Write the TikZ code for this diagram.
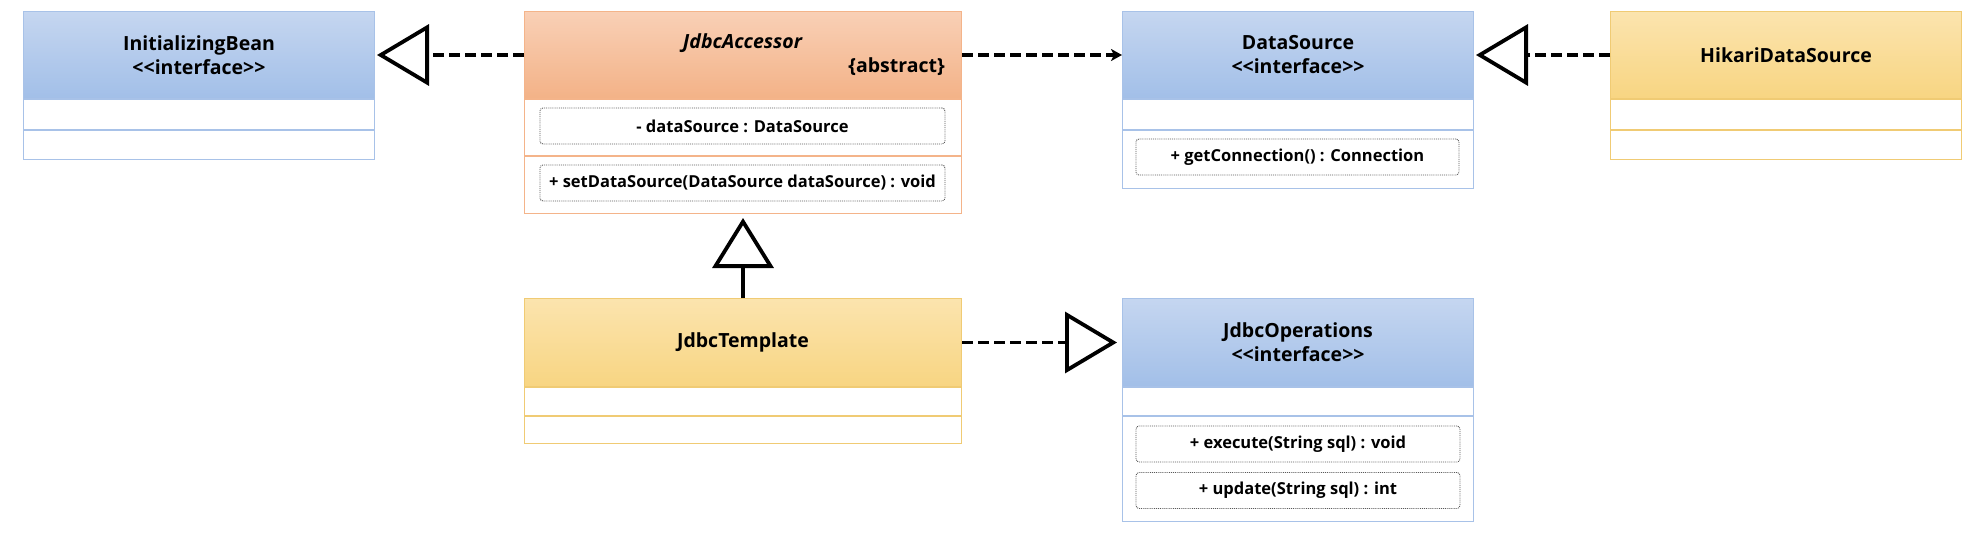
\documentclass[tikz,border=0pt]{standalone}
\usepackage{fontspec}
\setmainfont{Open Sans}
\usetikzlibrary{arrows.meta}
\definecolor{ifTop}{HTML}{C5D6F0}
\definecolor{ifBot}{HTML}{A2BFE8}
\definecolor{ifLine}{HTML}{A8C2E8}
\definecolor{abTop}{HTML}{F9D0B6}
\definecolor{abBot}{HTML}{F3B287}
\definecolor{abLine}{HTML}{F4B48A}
\definecolor{clTop}{HTML}{FBE4AE}
\definecolor{clBot}{HTML}{F8D582}
\definecolor{clLine}{HTML}{F0CB74}
\newcommand{\hdrfont}{\fontsize{19.5}{24}\selectfont\bfseries}
\newcommand{\mbrfont}{\fontsize{16.5}{20}\selectfont\bfseries}
\newcommand{\stereo}{<{}<interface>{}>}

\begin{document}
\begin{tikzpicture}[x=1pt,y=-1pt,
    hdr/.style={anchor=north west, inner sep=0pt, line width=1pt, align=center, font=\hdrfont},
    comp/.style={anchor=north west, inner sep=0pt, line width=1pt, fill=white},
    blueHdr/.style={hdr, draw=ifLine, top color=ifTop, bottom color=ifBot},
    orangeHdr/.style={hdr, draw=abLine, top color=abTop, bottom color=abBot},
    yellowHdr/.style={hdr, draw=clLine, top color=clTop, bottom color=clBot},
    member/.style={draw=black!65, densely dotted, line width=0.9pt, rounded corners=3pt,
        inner sep=0pt, font=\mbrfont},
    realize/.style={line width=3.6pt, dash pattern=on 11pt off 5pt,
        -{Triangle[open, length=52pt, width=61pt, line width=3.8pt]}},
    inherit/.style={line width=3.6pt,
        -{Triangle[open, length=50pt, width=61pt, line width=3.8pt]}},
    depend/.style={line width=3.6pt, dash pattern=on 11pt off 5pt,
        -{Stealth[length=11pt, width=12pt, inset=3pt]}}]

    % Page
    \useasboundingbox (0,0) rectangle (1986,546);
    \fill[white] (0,0) rectangle (1986,546);

    % InitializingBean
    \node[blueHdr, minimum width=351, minimum height=87] (ibHead) at (23,11) {InitializingBean\\\stereo};
    \node[comp, draw=ifLine, minimum width=351, minimum height=30] (ibAttr) at (ibHead.south west) {};
    \node[comp, draw=ifLine, minimum width=351, minimum height=29] (ibOps) at (ibAttr.south west) {};

    % JdbcAccessor
    \node[orangeHdr, minimum width=437, minimum height=87] (jaHead) at (524,11) {};
    \node[comp, draw=abLine, minimum width=437, minimum height=56] (jaAttr) at (jaHead.south west) {};
    \node[comp, draw=abLine, minimum width=437, minimum height=57] (jaOps) at (jaAttr.south west) {};
    \node[font=\hdrfont\itshape, inner sep=0pt] (jaName) at (742.5,43) {JdbcAccessor};
    \node[font=\hdrfont, inner sep=0pt, anchor=east] (jaAbs) at (945,67) {\{abstract\}};
    \node[member, minimum width=405, minimum height=36] (jaField) at (742.5,126) {- dataSource : DataSource};
    \node[member, minimum width=405, minimum height=36] (jaSet) at (742.5,183) {+ setDataSource(DataSource dataSource) : void};

    % DataSource
    \node[blueHdr, minimum width=351, minimum height=87] (dsHead) at (1122,11) {DataSource\\\stereo};
    \node[comp, draw=ifLine, minimum width=351, minimum height=30] (dsAttr) at (dsHead.south west) {};
    \node[comp, draw=ifLine, minimum width=351, minimum height=58] (dsOps) at (dsAttr.south west) {};
    \node[member, minimum width=323, minimum height=36] (dsConn) at (1297.5,157) {+ getConnection() : Connection};

    % HikariDataSource
    \node[yellowHdr, minimum width=351, minimum height=87] (hdsHead) at (1610,11) {HikariDataSource};
    \node[comp, draw=clLine, minimum width=351, minimum height=30] (hdsAttr) at (hdsHead.south west) {};
    \node[comp, draw=clLine, minimum width=351, minimum height=29] (hdsOps) at (hdsAttr.south west) {};

    % JdbcTemplate
    \node[yellowHdr, minimum width=437, minimum height=88] (jtHead) at (524,298) {JdbcTemplate};
    \node[comp, draw=clLine, minimum width=437, minimum height=28] (jtAttr) at (jtHead.south west) {};
    \node[comp, draw=clLine, minimum width=437, minimum height=27] (jtOps) at (jtAttr.south west) {};

    % JdbcOperations
    \node[blueHdr, minimum width=351, minimum height=88] (joHead) at (1122,298) {JdbcOperations\\\stereo};
    \node[comp, draw=ifLine, minimum width=351, minimum height=28] (joAttr) at (joHead.south west) {};
    \node[comp, draw=ifLine, minimum width=351, minimum height=105] (joOps) at (joAttr.south west) {};
    \node[member, minimum width=324, minimum height=36] (joExec) at (1298,444) {+ execute(String sql) : void};
    \node[member, minimum width=324, minimum height=36] (joUpd) at (1298,490.5) {+ update(String sql) : int};

    % Relations
    \draw[realize, shorten >=2pt] (jaHead.west) -- (ibHead.east);
    \draw[realize, shorten >=2pt] (hdsHead.west) -- (dsHead.east);
    \draw[depend] (jaHead.east) -- (dsHead.west);
    \draw[inherit, shorten >=4pt] (jtHead.north) -- (jaOps.south);
    \draw[realize, shorten >=5pt] (jtHead.east) -- (joHead.west);
\end{tikzpicture}
\end{document}
